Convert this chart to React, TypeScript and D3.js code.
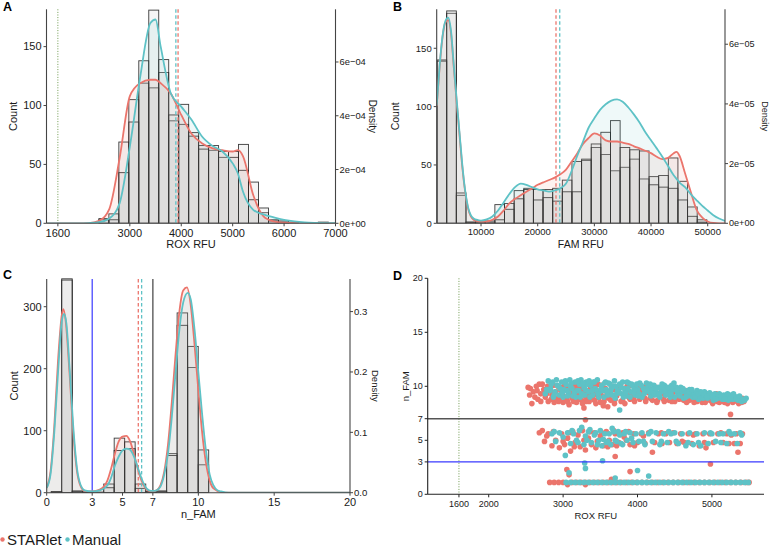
import * as d3 from "d3"

const FONT = "'Liberation Sans', Arial, Helvetica, sans-serif"
const RED = "#EB756C"
const CYAN = "#5EC2C6"
const BLUE = "#3a3aff"
const GREEN = "#6f9a4f"
const AXIS = "#444"
const TXT = "#1a1a1a"

// ---------- A: ROX RFU ----------
const roxBinWidth = 194
const roxBinEdges = [2398, 2592, 2786, 2980, 3174, 3368, 3562, 3756, 3950, 4144, 4338, 4532, 4726, 4920, 5114, 5308, 5502, 5696, 5890, 6084, 6278, 6472, 6666]
const roxCountStarlet = [3, 8, 69, 105, 119, 115, 128, 87, 84, 77, 66, 62, 56, 61, 67, 35, 9, 3, 1, 0, 0, 0, 0]
const roxCountManual = [4, 3, 43, 86, 138, 181, 139, 92, 101, 74, 63, 66, 61, 56, 45, 20, 13, 2, 2, 1, 0, 0, 1]
const roxDensX = [1380, 1600, 1800, 2000, 2200, 2400, 2600, 2800, 3000, 3200, 3400, 3500, 3600, 3800, 4000, 4200, 4400, 4600, 4800, 5000, 5100, 5200, 5400, 5600, 5800, 6000, 6200, 6400, 6600, 6800, 7000]
// density in units of 1e-4
const roxDensStarlet = [0, 0, 0, 0, 0.01, 0.09, 0.53, 2.41, 4.73, 5.21, 5.34, 5.34, 5.21, 4.82, 4.03, 3.33, 2.98, 2.8, 2.72, 2.67, 2.72, 2.5, 1.05, 0.26, 0.07, 0.02, 0.004, 0, 0, 0, 0]
const roxDensManual = [0, 0, 0, 0, 0.01, 0.04, 0.18, 0.74, 2.85, 5.43, 7.45, 7.58, 6.57, 4.82, 4.34, 3.85, 3.24, 2.89, 2.67, 2.23, 1.86, 1.18, 0.5, 0.33, 0.22, 0.13, 0.07, 0.035, 0.018, 0.009, 0.004]
const roxMeans = { starlet: 3938, manual: 3895 }
const roxTicks = [1600, 3000, 4000, 5000, 6000, 7000]
const roxCutoff = 1600

// ---------- B: FAM RFU ----------
const famBinWidth = 1700
const famBinEdges = [2245, 3945, 5645, 7345, 9045, 10745, 12445, 14145, 15845, 17545, 19245, 20945, 22645, 24345, 26045, 27745, 29445, 31145, 32845, 34545, 36245, 37945, 39645, 41345, 43045, 44745, 46445, 48145]
const famCountStarlet = [140, 180, 24, 1, 2, 1, 16, 17, 28, 30, 29, 29, 30, 37, 53, 55, 65, 59, 45, 48, 55, 38, 40, 41, 56, 36, 14, 3]
const famCountManual = [139, 182, 26, 1, 1, 2, 3, 12, 21, 29, 20, 22, 19, 27, 27, 54, 68, 78, 88, 65, 63, 62, 33, 31, 30, 20, 6, 1]
const famDensX = [2180, 2700, 3200, 3700, 4200, 4700, 5200, 5700, 6200, 6700, 7200, 7700, 8200, 8700, 9200, 10000, 11000, 12000, 13000, 14000, 15000, 16000, 17000, 18000, 19000, 20000, 21000, 22000, 23000, 24000, 25000, 26000, 27000, 28000, 29000, 30000, 31000, 32000, 33000, 34000, 35000, 36000, 37000, 38000, 39000, 40000, 41000, 42000, 43000, 44000, 44500, 45000, 46000, 47000, 48000, 49000, 50000, 51000, 52000, 53050]
// density in units of 1e-5
const famDensStarlet = [3.92, 5.25, 6.22, 6.73, 6.81, 6.38, 5.21, 4.07, 2.98, 1.88, 1.06, 0.51, 0.23, 0.12, 0.08, 0.06, 0.06, 0.12, 0.23, 0.43, 0.67, 0.82, 0.94, 1.06, 1.17, 1.29, 1.37, 1.45, 1.53, 1.64, 1.8, 2.07, 2.35, 2.66, 2.86, 3.01, 2.94, 2.78, 2.74, 2.74, 2.7, 2.66, 2.58, 2.51, 2.43, 2.35, 2.23, 2.15, 2.19, 2.35, 2.39, 2.27, 1.68, 1.06, 0.47, 0.2, 0.06, 0.01, 0, 0]
const famDensManual = [3.95, 5.29, 6.26, 6.77, 6.89, 6.46, 5.29, 4.15, 3.05, 1.96, 1.1, 0.55, 0.27, 0.16, 0.12, 0.09, 0.13, 0.23, 0.43, 0.7, 0.98, 1.21, 1.33, 1.29, 1.21, 1.14, 1.1, 1.06, 1.1, 1.17, 1.33, 1.76, 2.27, 2.74, 3.21, 3.52, 3.8, 3.99, 4.11, 4.15, 4.07, 3.88, 3.64, 3.37, 3.05, 2.78, 2.51, 2.23, 1.92, 1.61, 1.49, 1.37, 1.21, 0.98, 0.78, 0.59, 0.43, 0.27, 0.16, 0.08]
const famMeans = { starlet: 23230, manual: 23890 }
const famTicks = [10000, 20000, 30000, 40000, 50000]

// ---------- C: n_FAM ----------
const nBinWidth = 0.692
const nBinEdges = [0.3, 0.99, 1.68, 2.38, 3.07, 3.76, 4.45, 5.14, 5.84, 6.53, 7.22, 7.91, 8.6, 9.3, 9.99, 10.68]
const nCountStarlet = [2, 345, 3, 1, 1, 14, 88, 82, 14, 2, 3, 63, 290, 202, 45, 0]
const nCountManual = [1, 343, 2, 1, 0, 8, 68, 71, 7, 1, 2, 60, 270, 236, 69, 0]
const nDensXStarlet = [0, 0.25, 0.5, 0.75, 1.0, 1.1, 1.25, 1.5, 1.75, 2.0, 2.25, 2.5, 3.0, 3.5, 4.0, 4.25, 4.5, 4.75, 5.0, 5.25, 5.5, 5.75, 6.0, 6.25, 6.5, 6.75, 7.0, 7.25, 7.5, 7.75, 8.0, 8.25, 8.5, 8.75, 9.0, 9.25, 9.5, 9.75, 10.0, 10.25, 10.5, 10.75, 11.0, 11.5, 12, 20]
const nDensStarlet = [0.008, 0.035, 0.11, 0.22, 0.295, 0.304, 0.285, 0.2, 0.1, 0.035, 0.01, 0.003, 0.002, 0.005, 0.02, 0.04, 0.065, 0.085, 0.093, 0.094, 0.085, 0.065, 0.04, 0.02, 0.008, 0.003, 0.002, 0.004, 0.012, 0.035, 0.08, 0.15, 0.23, 0.3, 0.335, 0.34, 0.31, 0.245, 0.17, 0.1, 0.05, 0.02, 0.007, 0.001, 0, 0]
const nDensXManual = [0, 0.25, 0.5, 0.75, 1.0, 1.15, 1.3, 1.5, 1.75, 2.0, 2.25, 2.5, 3.0, 3.5, 4.0, 4.25, 4.5, 4.75, 5.0, 5.25, 5.5, 5.75, 6.0, 6.25, 6.5, 6.75, 7.0, 7.25, 7.5, 7.75, 8.0, 8.25, 8.5, 8.75, 9.0, 9.3, 9.5, 9.75, 10.0, 10.25, 10.5, 10.75, 11.0, 11.25, 11.5, 12, 20]
const nDensManual = [0.008, 0.03, 0.1, 0.2, 0.285, 0.296, 0.28, 0.21, 0.11, 0.04, 0.012, 0.004, 0.002, 0.004, 0.012, 0.025, 0.045, 0.06, 0.07, 0.073, 0.071, 0.06, 0.042, 0.024, 0.01, 0.004, 0.003, 0.004, 0.01, 0.03, 0.065, 0.125, 0.2, 0.27, 0.315, 0.331, 0.32, 0.27, 0.2, 0.13, 0.07, 0.03, 0.012, 0.004, 0.002, 0, 0]
const nMeans = { starlet: 6.04, manual: 6.26 }
const nTicks = [0, 3, 5, 7, 10, 15, 20]
const nLowCut = 3
const nHighCut = 7

// ---------- D: ROX vs n_FAM ----------
const scatterStarlet: [number, number][] = [
  // upper cluster
  [2530, 9.9], [2560, 9.8], [2580, 8.4], [2620, 9.0], [2650, 9.6], [2680, 10.2], [2700, 9.3], [2720, 10.2], [2760, 9.0], [2800, 8.6],
  [2820, 9.9], [2850, 9.2], [2880, 8.5], [2900, 9.5], [2930, 10.0], [2950, 8.8], [2980, 9.3], [3000, 8.5], [3020, 10.1], [3050, 9.0],
  [3080, 8.3], [3100, 9.6], [3120, 8.9], [3150, 10.2], [3180, 8.5], [3200, 9.3], [3230, 9.8], [3250, 8.7], [3280, 8.0], [3300, 9.1],
  [3330, 10.3], [3350, 8.6], [3380, 9.5], [3400, 8.9], [3430, 10.0], [3460, 9.2], [3500, 8.5], [3530, 9.7], [3560, 9.0], [3600, 8.1],
  [3630, 9.4], [3660, 10.0], [3700, 8.8], [3730, 9.3], [3760, 9.9], [3800, 8.7], [3840, 9.5], [3880, 9.0], [3920, 10.1], [3960, 8.6],
  [4000, 9.3], [4050, 9.7], [4100, 8.9], [4150, 9.4], [4200, 8.7], [4250, 9.9], [4300, 9.1], [4350, 8.8], [4400, 9.5], [4450, 9.0],
  [4500, 8.6], [4550, 9.3], [4600, 8.9], [4650, 9.6], [4700, 8.7], [4750, 9.2], [4800, 8.6], [4850, 9.0], [4900, 8.8], [4950, 9.3],
  [5000, 8.6], [5050, 8.9], [5100, 8.5], [5150, 9.1], [5200, 8.7], [5250, 7.4], [5280, 8.5], [5320, 8.9], [5360, 8.4], [5400, 8.5], [5430, 8.6],
  [2600, 9.5], [2660, 8.8], [2740, 9.7], [2780, 9.3], [2840, 8.8], [2870, 10.1], [2910, 8.9], [2960, 9.7], [3000, 9.1], [3040, 9.8],
  [3060, 8.6], [3110, 9.3], [3140, 8.6], [3170, 9.9], [3210, 8.8], [3240, 9.5], [3270, 10.1], [3310, 8.6], [3360, 9.3], [3390, 10.2],
  [3420, 8.7], [3450, 9.6], [3480, 8.9], [3520, 10.1], [3550, 8.6], [3590, 9.4], [3640, 8.7], [3680, 9.7], [3720, 9.1], [3780, 8.6],
  [3820, 9.2], [3860, 10.0], [3900, 8.8], [3940, 9.4], [3980, 9.9], [4030, 8.8], [4080, 9.4], [4120, 10.0], [4170, 8.9], [4220, 9.5],
  [4270, 8.7], [4320, 9.6], [4370, 9.2], [4420, 8.7], [4470, 9.4], [4520, 8.9], [4570, 9.6], [4620, 8.7], [4670, 9.0], [4720, 9.4],
  [4770, 8.8], [4820, 9.2], [4870, 8.5], [4920, 9.0], [4970, 8.7], [5020, 9.2], [5070, 8.6], [5120, 8.9], [5170, 8.5], [5220, 9.0], [5300, 8.7], [5380, 8.8],
  [2550, 9.2], [2640, 10.0], [2700, 8.6], [2790, 10.0], [2860, 9.4], [2940, 8.6], [2990, 9.9], [3030, 8.7], [3090, 10.0], [3130, 9.5],
  [3190, 9.1], [3220, 10.2], [3260, 8.4], [3290, 9.6], [3320, 8.9], [3370, 9.9], [3410, 9.3], [3440, 8.4], [3470, 10.2], [3510, 9.2],
  [3540, 8.2], [3570, 9.8], [3610, 8.9], [3650, 9.2], [3690, 8.4], [3740, 9.6], [3770, 10.1], [3830, 8.4], [3870, 9.7], [3910, 9.3],
  [3950, 8.9], [4010, 9.8], [4060, 9.1], [4110, 8.6], [4160, 9.8], [4210, 9.2], [4260, 8.5], [4310, 9.3], [4360, 8.6], [4410, 9.8],
  [4460, 8.6], [4510, 9.5], [4560, 8.8], [4610, 9.2], [4660, 8.5], [4710, 9.1], [4760, 8.5], [4810, 8.9], [4860, 9.3], [4910, 8.5],
  [4960, 9.0], [5010, 8.4], [5060, 9.3], [5110, 8.8], [5160, 8.7], [5210, 8.4], [5260, 8.8], [5340, 8.6], [5410, 8.9],
  // middle cluster
  [2680, 5.7], [2720, 5.9], [2750, 4.9], [2800, 5.6], [2850, 4.5], [2900, 5.0], [2950, 4.3], [2980, 5.6], [3020, 4.6], [3060, 5.2],
  [3100, 4.0], [3130, 5.8], [3160, 4.8], [3200, 5.5], [3230, 4.4], [3260, 5.9], [3300, 6.9], [3300, 4.1], [3340, 5.2], [3380, 4.6],
  [3420, 5.7], [3460, 4.9], [3500, 5.4], [3540, 4.5], [3580, 5.8], [3620, 5.0], [3660, 4.6], [3700, 3.5], [3700, 5.6], [3750, 4.8],
  [3800, 5.7], [3850, 5.0], [3900, 4.6], [3950, 5.6], [4000, 4.8], [4050, 5.6], [4100, 4.7], [4150, 5.7], [4200, 3.9], [4230, 4.8],
  [4280, 5.6], [4330, 4.7], [4380, 5.6], [4430, 4.8], [4480, 5.7], [4530, 4.7], [4580, 5.6], [4630, 4.8], [4680, 5.6], [4730, 4.7],
  [4780, 5.6], [4830, 4.5], [4880, 5.6], [4920, 4.3], [4970, 5.6], [5020, 4.8], [5080, 5.6], [5150, 4.8], [5200, 5.6], [5260, 5.5],
  [5300, 4.7], [5350, 3.9], [5380, 4.7], [5410, 5.6], [4980, 2.8],
  [2780, 5.4], [2870, 5.8], [3000, 4.9], [3080, 5.7], [3150, 4.4], [3280, 5.0], [3360, 5.8], [3440, 4.3], [3520, 5.7], [3600, 4.4],
  [3680, 5.9], [3720, 4.5], [3820, 5.3], [3880, 5.8], [3960, 4.5], [4080, 5.4], [4320, 5.7], [4600, 4.9], [4750, 5.5], [4900, 4.8],
  [5120, 5.7], [5230, 4.7], [5330, 5.6],
  // lower cluster
  [2820, 1.1], [2880, 1.1], [2940, 1.1], [3000, 1.1], [3050, 2.3], [3060, 0.9], [3080, 1.8], [3120, 1.1], [3180, 1.1], [3240, 1.1],
  [3300, 1.1], [3300, 0.9], [3360, 1.1], [3420, 1.1], [3480, 1.1], [3540, 1.1], [3600, 1.1], [3650, 1.4], [3660, 1.1], [3720, 1.1],
  [3780, 1.1], [3850, 1.1], [3900, 2.1], [3920, 1.1], [3990, 1.1], [4060, 1.1], [4130, 1.1], [4200, 1.1], [4270, 1.1], [4340, 1.1],
  [4410, 1.1], [4480, 1.1], [4550, 1.1], [4620, 1.1], [4690, 1.1], [4760, 1.1], [4830, 1.1], [4900, 1.1], [4970, 1.1], [5040, 1.1],
  [5110, 1.1], [5180, 1.1], [5250, 1.1], [5320, 1.1], [5390, 1.1], [5460, 1.1], [5500, 1.1],
]
const scatterManual: [number, number][] = [
  // upper cluster
  [2760, 9.3], [2800, 10.5], [2830, 9.8], [2860, 10.4], [2890, 9.5], [2920, 10.1], [2950, 9.2], [2980, 10.4], [3010, 9.7], [3040, 10.2],
  [3070, 9.4], [3100, 10.0], [3130, 9.1], [3160, 10.4], [3190, 9.6], [3220, 10.2], [3250, 9.3], [3280, 9.9], [3310, 10.4], [3340, 9.5],
  [3370, 10.1], [3400, 9.2], [3430, 9.8], [3460, 10.6], [3490, 9.5], [3520, 10.1], [3550, 9.0], [3580, 9.7], [3610, 10.3], [3640, 9.4],
  [3670, 10.0], [3700, 8.9], [3730, 9.6], [3760, 7.8], [3760, 10.2], [3790, 9.3], [3820, 9.8], [3850, 9.1], [3880, 10.3], [3910, 9.5],
  [3940, 10.0], [3970, 9.2], [4000, 9.7], [4030, 10.3], [4060, 9.0], [4100, 9.5], [4140, 9.9], [4180, 9.1], [4220, 10.1], [4260, 9.4],
  [4300, 9.0], [4340, 9.8], [4380, 9.2], [4420, 9.6], [4460, 10.1], [4500, 9.0], [4540, 9.4], [4580, 9.9], [4620, 8.9], [4660, 9.3],
  [4700, 9.7], [4740, 9.0], [4780, 9.4], [4820, 8.8], [4860, 9.2], [4900, 9.5], [4940, 8.9], [4980, 9.2], [5020, 8.7], [5060, 9.1],
  [5100, 9.3], [5140, 8.8], [5180, 9.1], [5220, 8.7], [5260, 9.0], [5300, 9.1], [5350, 8.7], [5400, 8.6], [5460, 8.9],
  [2820, 9.6], [2870, 9.0], [2910, 10.6], [2960, 9.8], [3000, 9.0], [3050, 9.6], [3090, 10.6], [3120, 9.8], [3170, 9.0], [3210, 9.6],
  [3240, 10.6], [3290, 9.2], [3330, 10.2], [3360, 9.0], [3410, 10.4], [3450, 9.6], [3480, 9.0], [3540, 9.6], [3570, 10.4], [3600, 9.2],
  [3650, 9.8], [3690, 10.5], [3720, 9.3], [3780, 9.9], [3810, 9.0], [3860, 10.4], [3900, 9.0], [3950, 9.4], [3990, 10.2], [4020, 9.3],
  [4080, 9.8], [4120, 10.3], [4160, 9.5], [4200, 9.7], [4240, 9.2], [4280, 9.9], [4320, 9.5], [4360, 10.1], [4400, 9.4], [4440, 9.0],
  [4480, 9.7], [4520, 9.9], [4560, 9.2], [4600, 9.5], [4640, 9.6], [4680, 9.1], [4720, 9.4], [4760, 9.2], [4800, 9.6], [4840, 9.1],
  [4880, 8.9], [4920, 9.3], [4960, 9.1], [5000, 9.0], [5040, 9.3], [5080, 8.9], [5120, 9.0], [5160, 9.2], [5200, 8.9], [5240, 9.2],
  [5280, 8.8], [5320, 9.0], [5380, 8.9], [5440, 8.7],
  [2780, 9.7], [2840, 10.2], [2880, 9.2], [2940, 10.0], [2990, 9.4], [3030, 10.5], [3060, 9.1], [3110, 10.3], [3150, 9.4], [3200, 10.5],
  [3230, 9.0], [3270, 10.3], [3300, 9.7], [3350, 10.5], [3390, 9.6], [3420, 10.4], [3470, 9.3], [3510, 9.8], [3560, 10.3], [3590, 9.5],
  [3630, 10.2], [3660, 9.2], [3710, 10.0], [3750, 9.5], [3800, 10.4], [3840, 9.4], [3870, 9.8], [3920, 10.2], [3960, 9.7], [4010, 9.1],
  [4050, 10.1], [4090, 9.3], [4130, 9.6], [4170, 10.2], [4210, 9.4], [4250, 9.8], [4290, 9.3], [4330, 10.2], [4370, 9.6], [4410, 9.9],
  [4450, 9.3], [4490, 10.3], [4530, 9.6], [4570, 9.1], [4610, 9.8], [4650, 9.0], [4690, 9.5], [4730, 9.7], [4770, 9.0], [4810, 9.3],
  [4850, 9.5], [4890, 9.2], [4930, 9.0], [4970, 9.4], [5010, 9.2], [5050, 8.8], [5090, 9.2], [5130, 9.1], [5170, 8.8], [5210, 9.3],
  [5250, 8.9], [5290, 9.3], [5330, 8.8], [5370, 9.1], [5420, 8.8],
  // middle cluster
  [2850, 5.6], [2900, 4.9], [2950, 5.7], [3000, 5.3], [3030, 3.6], [3060, 5.7], [3100, 4.7], [3140, 5.6], [3180, 5.0], [3220, 5.9],
  [3250, 6.2], [3280, 4.6], [3300, 5.4], [3340, 5.8], [3380, 4.8], [3420, 5.5], [3460, 4.6], [3500, 5.9], [3540, 5.1], [3580, 4.8],
  [3620, 5.6], [3660, 6.1], [3700, 5.0], [3740, 5.8], [3780, 4.7], [3820, 5.6], [3860, 5.0], [3900, 5.7], [3940, 4.8], [3980, 5.6],
  [4020, 4.9], [4060, 5.7], [4100, 4.6], [4150, 5.6], [4200, 4.9], [4250, 5.7], [4300, 4.6], [4350, 5.6], [4400, 4.8], [4450, 5.6],
  [4500, 5.7], [4550, 4.7], [4600, 5.6], [4650, 4.5], [4700, 5.7], [4750, 4.6], [4800, 5.6], [4850, 4.5], [4900, 5.7], [4950, 4.7],
  [5000, 5.6], [5050, 4.9], [5100, 5.6], [5150, 5.6], [5200, 4.7], [5250, 5.6], [5300, 5.6], [5340, 4.7], [5400, 5.5],
  [2880, 5.8], [3120, 5.9], [3200, 4.8], [3320, 5.0], [3360, 6.0], [3440, 5.7], [3480, 5.0], [3520, 4.5], [3560, 5.6], [3600, 4.9],
  [3640, 4.6], [3680, 5.8], [3720, 4.9], [3760, 5.5], [3800, 4.6], [3840, 5.8], [3920, 5.2], [4080, 4.9], [4180, 5.8], [4320, 4.9],
  [4420, 5.8], [4520, 4.9], [4680, 4.8], [4820, 4.8], [4980, 5.7], [5120, 4.8], [5230, 5.8], [5380, 5.7],
  [3290, 2.9], [3530, 3.1], [3300, 2.4],
  // lower cluster
  [3040, 1.1], [3080, 2.0], [3100, 1.1], [3160, 1.1], [3220, 1.1], [3280, 1.1], [3340, 1.1], [3400, 1.1], [3460, 1.1], [3520, 1.1],
  [3580, 1.1], [3640, 1.1], [3700, 1.5], [3700, 1.1], [3760, 1.1], [3820, 1.1], [3880, 1.1], [3940, 1.1], [4000, 2.2], [4000, 1.1],
  [4060, 1.1], [4120, 1.1], [4150, 1.7], [4180, 1.1], [4240, 1.1], [4300, 1.1], [4360, 1.1], [4420, 1.1], [4480, 1.1], [4540, 1.1],
  [4600, 1.1], [4660, 1.1], [4720, 1.1], [4780, 1.1], [4840, 1.1], [4900, 1.1], [4960, 1.1], [5020, 1.1], [5080, 1.1], [5140, 1.1],
  [5200, 1.1], [5260, 1.1], [5320, 1.1], [5380, 1.1], [5440, 1.1], [5490, 1.1],
]
const scatterXTicks = [1600, 2000, 3000, 4000, 5000]
const scatterYTicks = [0, 3, 5, 7, 10, 15, 20]

type Frame = { l: number; r: number; t: number; b: number }
type RefLine = { x: number; color: string; width: number; dash?: string }

interface HistProps {
  id: string
  letter: string
  letterX: number
  letterY: number
  f: Frame
  xDomain: [number, number]
  xTicks: number[]
  xTitle: string
  countMax: number
  countTicks: number[]
  densMax: number
  densTicks: number[]
  densLabels: string[]
  edges: number[]
  binWidth: number
  countsS: number[]
  countsM: number[]
  densXS: number[]
  densS: number[]
  densXM: number[]
  densM: number[]
  means: { starlet: number; manual: number }
  refLines: RefLine[]
  tickSize: number
  titleSize: number
  densTickSize: number
  densTitleSize: number
  countTitleX: number
  densTitleX: number
}

function HistPanel(p: HistProps) {
  const { f } = p
  const x = d3.scaleLinear().domain(p.xDomain).range([f.l, f.r])
  const yC = d3.scaleLinear().domain([0, p.countMax]).range([f.b, f.t])
  const yD = d3.scaleLinear().domain([0, p.densMax]).range([f.b, f.t])

  const linePath = (xs: number[], ys: number[]) =>
    d3.line<number>().x((_, i) => x(xs[i])).y((d) => yD(d)).curve(d3.curveMonotoneX)(ys) || ""
  const areaPath = (xs: number[], ys: number[]) =>
    d3.area<number>().x((_, i) => x(xs[i])).y0(f.b).y1((d) => yD(d)).curve(d3.curveMonotoneX)(ys) || ""

  const bars = (counts: number[], key: string) =>
    p.edges.map((e, i) =>
      counts[i] > 0 ? (
        <rect
          key={key + i}
          x={x(e)}
          y={yC(counts[i])}
          width={x(e + p.binWidth) - x(e)}
          height={f.b - yC(counts[i])}
          fill="#c4c4c4"
          fillOpacity={0.17}
          stroke="#1a1a1a"
          strokeOpacity={0.85}
          strokeWidth={0.9}
        />
      ) : null
    )

  const clip = `clip-${p.id}`
  const midY = (f.t + f.b) / 2
  return (
    <g>
      <defs>
        <clipPath id={clip}>
          <rect x={f.l} y={f.t - 1} width={f.r - f.l} height={f.b - f.t + 1} />
        </clipPath>
      </defs>
      <g clipPath={`url(#${clip})`}>
        {bars(p.countsS, "s")}
        {bars(p.countsM, "m")}
        <path d={areaPath(p.densXS, p.densS)} fill={RED} fillOpacity={0.1} />
        <path d={areaPath(p.densXM, p.densM)} fill={CYAN} fillOpacity={0.1} />
        {p.refLines.map((r, i) => (
          <line key={i} x1={x(r.x)} x2={x(r.x)} y1={f.t} y2={f.b} stroke={r.color} strokeWidth={r.width} strokeDasharray={r.dash} />
        ))}
        <line x1={x(p.means.starlet)} x2={x(p.means.starlet)} y1={f.t} y2={f.b} stroke={RED} strokeWidth={1.3} strokeDasharray="3.5,2.5" />
        <line x1={x(p.means.manual)} x2={x(p.means.manual)} y1={f.t} y2={f.b} stroke={CYAN} strokeWidth={1.3} strokeDasharray="3.5,2.5" />
        <path d={linePath(p.densXS, p.densS)} fill="none" stroke={RED} strokeWidth={1.8} />
        <path d={linePath(p.densXM, p.densM)} fill="none" stroke={CYAN} strokeWidth={1.8} />
      </g>

      {/* axes */}
      <line x1={f.l} x2={f.l} y1={f.t} y2={f.b} stroke={AXIS} strokeWidth={1.1} />
      <line x1={f.r} x2={f.r} y1={f.t} y2={f.b} stroke={AXIS} strokeWidth={1.1} />
      <line x1={f.l} x2={f.r} y1={f.b} y2={f.b} stroke={AXIS} strokeWidth={1.1} />
      {p.xTicks.map((t) => (
        <g key={"x" + t}>
          <line x1={x(t)} x2={x(t)} y1={f.b} y2={f.b + 3} stroke={AXIS} />
          <text x={x(t)} y={f.b + 4 + p.tickSize * 0.85} fontSize={p.tickSize} textAnchor="middle" fill={TXT}>{t}</text>
        </g>
      ))}
      {p.countTicks.map((t) => (
        <g key={"c" + t}>
          <line x1={f.l - 3} x2={f.l} y1={yC(t)} y2={yC(t)} stroke={AXIS} />
          <text x={f.l - 5} y={yC(t)} dy="0.35em" fontSize={p.tickSize} textAnchor="end" fill={TXT}>{t}</text>
        </g>
      ))}
      {p.densTicks.map((t, i) => (
        <g key={"d" + t}>
          <line x1={f.r} x2={f.r + 3} y1={yD(t)} y2={yD(t)} stroke={AXIS} />
          <text x={f.r + 4} y={yD(t)} dy="0.35em" fontSize={p.densTickSize} fill={TXT}>{p.densLabels[i]}</text>
        </g>
      ))}
      <text x={(f.l + f.r) / 2} y={f.b + 25} fontSize={p.titleSize} textAnchor="middle" fill={TXT}>{p.xTitle}</text>
      <text transform={`translate(${p.countTitleX},${midY}) rotate(-90)`} dy="0.35em" fontSize={p.titleSize} textAnchor="middle" fill={TXT}>Count</text>
      <text transform={`translate(${p.densTitleX},${midY}) rotate(90)`} dy="0.35em" fontSize={p.densTitleSize} textAnchor="middle" fill={TXT}>Density</text>
      <text x={p.letterX} y={p.letterY} fontSize={12.5} fontWeight="bold" fill="#000">{p.letter}</text>
    </g>
  )
}

function ScatterPanel() {
  const f: Frame = { l: 427.7, r: 764, t: 278.3, b: 494.3 }
  const x = d3.scaleLinear().domain([1180, 5700]).range([f.l, f.r])
  const y = d3.scaleLinear().domain([0, 20]).range([f.b, f.t])
  return (
    <g>
      <line x1={x(roxCutoff)} x2={x(roxCutoff)} y1={f.t} y2={f.b} stroke={GREEN} strokeWidth={1} strokeDasharray="1,1.6" />
      {scatterStarlet.map(([r, n], i) => (
        <circle key={"s" + i} cx={x(r)} cy={y(n)} r={2.8} fill={RED} />
      ))}
      {scatterManual.map(([r, n], i) => (
        <circle key={"m" + i} cx={x(r)} cy={y(n)} r={2.8} fill={CYAN} />
      ))}
      <line x1={f.l} x2={f.r} y1={y(nHighCut)} y2={y(nHighCut)} stroke="#555" strokeWidth={1.6} />
      <line x1={f.l} x2={f.r} y1={y(nLowCut)} y2={y(nLowCut)} stroke={BLUE} strokeWidth={1.4} />
      <line x1={f.l} x2={f.l} y1={f.t} y2={f.b} stroke="#222" strokeWidth={1.1} />
      <line x1={f.l} x2={f.r} y1={f.b} y2={f.b} stroke="#222" strokeWidth={1.1} />
      {scatterXTicks.map((t) => (
        <g key={"x" + t}>
          <line x1={x(t)} x2={x(t)} y1={f.b} y2={f.b + 3} stroke="#222" />
          <text x={x(t)} y={f.b + 12.5} fontSize={9} textAnchor="middle" fill={TXT}>{t}</text>
        </g>
      ))}
      {scatterYTicks.map((t) => (
        <g key={"y" + t}>
          <line x1={f.l - 3} x2={f.l} y1={y(t)} y2={y(t)} stroke="#222" />
          <text x={f.l - 5} y={y(t)} dy="0.35em" fontSize={9} textAnchor="end" fill={TXT}>{t}</text>
        </g>
      ))}
      <text x={(f.l + f.r) / 2} y={f.b + 24.5} fontSize={9.5} textAnchor="middle" fill={TXT}>ROX RFU</text>
      <text transform={`translate(${405.7},${(f.t + f.b) / 2}) rotate(-90)`} dy="0.35em" fontSize={9.5} textAnchor="middle" fill={TXT}>n_FAM</text>
      <text x={393} y={279.5} fontSize={12.5} fontWeight="bold" fill="#000">D</text>
    </g>
  )
}

const panelA: HistProps = {
  id: "a", letter: "A", letterX: 3, letterY: 10.5,
  f: { l: 46.5, r: 335.5, t: 9.3, b: 223.3 },
  xDomain: [1379, 7000], xTicks: roxTicks, xTitle: "ROX RFU",
  countMax: 181.7, countTicks: [0, 50, 100, 150],
  densMax: 7.96, densTicks: [0, 2, 4, 6], densLabels: ["0e+00", "2e\u221204", "4e\u221204", "6e\u221204"],
  edges: roxBinEdges, binWidth: roxBinWidth, countsS: roxCountStarlet, countsM: roxCountManual,
  densXS: roxDensX, densS: roxDensStarlet, densXM: roxDensX, densM: roxDensManual,
  means: roxMeans,
  refLines: [{ x: roxCutoff, color: GREEN, width: 1, dash: "1,1.6" }],
  tickSize: 11, titleSize: 11, densTickSize: 9.4, densTitleSize: 10,
  countTitleX: 13, densTitleX: 372,
}

const panelB: HistProps = {
  id: "b", letter: "B", letterX: 393, letterY: 10.5,
  f: { l: 436.7, r: 725, t: 9.3, b: 223.3 },
  xDomain: [2180, 53050], xTicks: famTicks, xTitle: "FAM RFU",
  countMax: 183.4, countTicks: [0, 50, 100, 150],
  densMax: 7.17, densTicks: [0, 2, 4, 6], densLabels: ["0e+00", "2e\u221205", "4e\u221205", "6e\u221205"],
  edges: famBinEdges, binWidth: famBinWidth, countsS: famCountStarlet, countsM: famCountManual,
  densXS: famDensX, densS: famDensStarlet, densXM: famDensX, densM: famDensManual,
  means: famMeans,
  refLines: [],
  tickSize: 9.5, titleSize: 10.5, densTickSize: 9.1, densTitleSize: 9,
  countTitleX: 395, densTitleX: 765,
}

const panelC: HistProps = {
  id: "c", letter: "C", letterX: 3, letterY: 278.5,
  f: { l: 46.7, r: 350, t: 279, b: 492.7 },
  xDomain: [0, 20], xTicks: nTicks, xTitle: "n_FAM",
  countMax: 344.7, countTicks: [0, 100, 200, 300],
  densMax: 0.354, densTicks: [0, 0.1, 0.2, 0.3], densLabels: ["0.0", "0.1", "0.2", "0.3"],
  edges: nBinEdges, binWidth: nBinWidth, countsS: nCountStarlet, countsM: nCountManual,
  densXS: nDensXStarlet, densS: nDensStarlet, densXM: nDensXManual, densM: nDensManual,
  means: nMeans,
  refLines: [
    { x: nLowCut, color: BLUE, width: 1.2 },
    { x: nHighCut, color: "#666", width: 1.5 },
  ],
  tickSize: 11, titleSize: 11, densTickSize: 9.6, densTitleSize: 9.5,
  countTitleX: 14, densTitleX: 375,
}

function Legend() {
  return (
    <g>
      <circle cx={2.5} cy={539.5} r={2.2} fill={RED} />
      <text x={7} y={544.5} fontSize={15} fill={TXT}>STARlet</text>
      <circle cx={67.5} cy={539.5} r={2.2} fill={CYAN} />
      <text x={72} y={544.5} fontSize={15} fill={TXT}>Manual</text>
    </g>
  )
}

export default function App() {
  return (
    <svg width={770} height={547} style={{ position: "absolute", left: 0, top: 0, background: "#fff" }} fontFamily={FONT}>
      <HistPanel {...panelA} />
      <HistPanel {...panelB} />
      <HistPanel {...panelC} />
      <ScatterPanel />
      <Legend />
    </svg>
  )
}
